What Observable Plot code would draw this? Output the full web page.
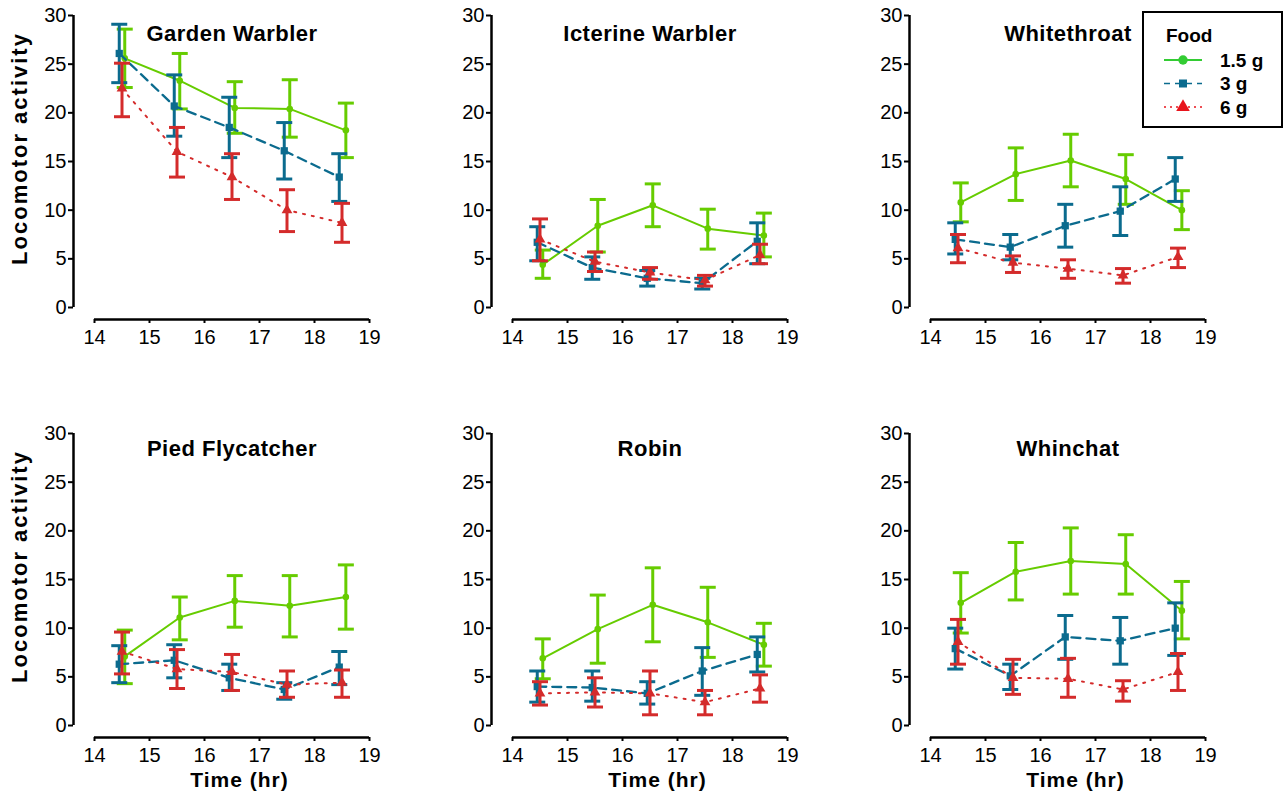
<!DOCTYPE html>
<html>
<head>
<meta charset="utf-8">
<script src="https://cdn.jsdelivr.net/npm/d3@7"></script>
<script src="https://cdn.jsdelivr.net/npm/@observablehq/plot@0.6"></script>
<style>
  body { margin: 0; background: #fff; font-family: "Liberation Sans", Arial, sans-serif; }
  #chart { position: relative; width: 1287px; height: 800px; overflow: hidden; background: #fff; }
  .panel { position: absolute; }
  #legend { position: absolute; left: 1142px; top: 11px; }
</style>
</head>
<body>
<div id="chart"></div>
<script>
// ---------------- data ----------------
const species = ["Garden Warbler", "Icterine Warbler", "Whitethroat", "Pied Flycatcher", "Robin", "Whinchat"];
const foods = ["1.5 g", "3 g", "6 g"];
const xDomain = [14, 19];
const yDomain = [0, 30];
const xTicks = [14, 15, 16, 17, 18, 19];
const yTicks = [0, 5, 10, 15, 20, 25, 30];
const yLabel = "Locomotor activity";
const xLabel = "Time (hr)";

// sampling times (hr) per food group (groups slightly staggered)
const time_1_5g = [14.55, 15.55, 16.55, 17.55, 18.57];
const time_3g   = [14.45, 15.45, 16.45, 17.45, 18.45];
const time_6g   = [14.5, 15.5, 16.5, 17.5, 18.5];

// mean, lower and upper error-bar ends; one row per species (order as in `species`)
const mean_1_5g = [
  [25.6, 23.3, 20.5, 20.4, 18.2],
  [4.4, 8.4, 10.5, 8.1, 7.4],
  [10.8, 13.7, 15.1, 13.2, 10.0],
  [7.1, 11.1, 12.8, 12.3, 13.2],
  [6.9, 9.9, 12.4, 10.6, 8.3],
  [12.6, 15.8, 16.9, 16.6, 11.8]
];
const lo_1_5g = [
  [22.6, 20.4, 17.9, 17.5, 15.4],
  [3.0, 5.7, 8.3, 6.0, 5.2],
  [8.8, 11.0, 12.4, 10.6, 8.0],
  [4.3, 8.8, 10.1, 9.1, 9.9],
  [4.8, 6.4, 8.6, 7.0, 6.1],
  [9.5, 12.9, 13.5, 13.5, 8.9]
];
const hi_1_5g = [
  [28.6, 26.1, 23.2, 23.4, 21.0],
  [5.9, 11.1, 12.7, 10.1, 9.7],
  [12.8, 16.4, 17.8, 15.7, 12.0],
  [9.8, 13.2, 15.4, 15.4, 16.5],
  [8.9, 13.4, 16.2, 14.2, 10.5],
  [15.7, 18.8, 20.3, 19.6, 14.8]
];
const mean_3g = [
  [26.1, 20.7, 18.5, 16.1, 13.4],
  [6.7, 4.1, 3.0, 2.5, 6.8],
  [7.0, 6.2, 8.4, 9.9, 13.2],
  [6.3, 6.7, 4.9, 3.7, 6.0],
  [4.0, 3.9, 3.3, 5.6, 7.3],
  [7.9, 5.1, 9.1, 8.7, 10.0]
];
const lo_3g = [
  [23.1, 17.6, 15.4, 13.2, 10.9],
  [4.8, 2.9, 2.2, 1.9, 4.5],
  [5.5, 4.9, 6.2, 7.4, 10.9],
  [4.4, 4.9, 3.6, 2.7, 4.2],
  [2.4, 2.5, 2.2, 3.1, 5.5],
  [5.8, 3.7, 6.8, 6.3, 7.2]
];
const hi_3g = [
  [29.1, 23.9, 21.6, 19.0, 15.8],
  [8.3, 5.2, 3.8, 3.0, 8.7],
  [8.7, 7.5, 10.6, 12.4, 15.4],
  [8.2, 8.3, 6.3, 4.4, 7.6],
  [5.6, 5.6, 4.5, 8.0, 9.1],
  [10.0, 6.3, 11.3, 11.1, 12.6]
];
const mean_6g = [
  [22.5, 16.0, 13.4, 10.0, 8.7],
  [7.0, 4.7, 3.6, 2.8, 5.4],
  [6.1, 4.6, 4.0, 3.3, 5.2],
  [7.6, 5.8, 5.5, 4.2, 4.4],
  [3.3, 3.4, 3.3, 2.4, 3.8],
  [8.6, 4.9, 4.8, 3.7, 5.5]
];
const lo_6g = [
  [19.6, 13.4, 11.1, 7.8, 6.7],
  [4.8, 3.7, 2.9, 2.2, 4.5],
  [4.6, 3.6, 3.0, 2.5, 4.1],
  [5.3, 3.8, 3.6, 2.9, 2.9],
  [2.1, 1.9, 1.1, 1.1, 2.4],
  [6.3, 3.2, 2.9, 2.5, 3.6]
];
const hi_6g = [
  [25.1, 18.5, 15.8, 12.1, 10.7],
  [9.1, 5.7, 4.1, 3.3, 6.5],
  [7.5, 5.3, 4.9, 4.0, 6.1],
  [9.6, 7.8, 7.3, 5.6, 5.7],
  [4.5, 4.9, 5.6, 3.6, 5.2],
  [10.9, 6.8, 6.9, 4.6, 7.4]
];

// ---------------- styling ----------------
const lineColors = ["#66cc00", "#0b6b8e", "#d42b2b"];
const legendColors = ["#33cc33", "#0b6b8e", "#e8141c"];
const dashes = [null, "9,6", "2,7"];
const symbols = ["circle", "square", "triangle"];
const symbolR = [3.3, 4.1, 4.0];
const FONT = "'Liberation Sans', Arial, sans-serif";

// tidy table
const groups = [
  {food: foods[0], time: time_1_5g, mean: mean_1_5g, lo: lo_1_5g, hi: hi_1_5g},
  {food: foods[1], time: time_3g, mean: mean_3g, lo: lo_3g, hi: hi_3g},
  {food: foods[2], time: time_6g, mean: mean_6g, lo: lo_6g, hi: hi_6g}
];
const rows = [];
species.forEach((sp, i) => groups.forEach(g => g.time.forEach((t, j) => {
  rows.push({species: sp, food: g.food, t, mean: g.mean[i][j], lo: g.lo[i][j], hi: g.hi[i][j]});
})));

// horizontal error-bar cap as a custom symbol (width = 2r)
const capSymbol = {draw(ctx, size) { const r = Math.sqrt(size / Math.PI); ctx.moveTo(-r, 0); ctx.lineTo(r, 0); }};

const chart = document.getElementById("chart");
const W = 418, H = 382;

species.forEach((sp, i) => {
  const row = Math.floor(i / 3), col = i % 3;
  const data = rows.filter(d => d.species === sp);
  const marks = [
    Plot.ruleX([xDomain[0]], {y1: yDomain[0], y2: yDomain[1], dx: -21, strokeWidth: 2.5, stroke: "black"}),
    Plot.ruleY([yDomain[0]], {x1: xDomain[0], x2: xDomain[1], dy: 12, strokeWidth: 2.5, stroke: "black"}),
    Plot.axisY(yTicks, {anchor: "left", tickSize: 5, tickPadding: 2, strokeWidth: 2, label: null, fontSize: 20}),
    Plot.axisX(xTicks, {anchor: "bottom", tickSize: 4, tickPadding: 6, strokeWidth: 2, label: null, fontSize: 20}),
    Plot.text([sp], {text: d => d, frameAnchor: "top", dx: 10.5, dy: row === 0 ? 18 : 15, lineAnchor: "middle",
      fontWeight: "bold", fontSize: 22})
  ];
  if (col === 0) marks.push(Plot.text([yLabel], {text: d => d, frameAnchor: "left", rotate: -90, textAnchor: "middle",
      dx: -54, dy: -19, fontWeight: "bold", fontSize: 22, lineAnchor: "middle"}));
  if (row === 1) marks.push(Plot.text([xLabel], {text: d => d, frameAnchor: "bottom", dx: 18, dy: 43,
      fontWeight: "bold", fontSize: 21, lineAnchor: "middle"}));
  foods.forEach((f, k) => {
    const s = data.filter(d => d.food === f);
    const c = lineColors[k];
    marks.push(
      Plot.line(s, {x: "t", y: "mean", stroke: c, strokeWidth: k === 0 ? 2 : (k === 1 ? 2.3 : 2), strokeDasharray: dashes[k]}),
      Plot.ruleX(s, {x: "t", y1: "lo", y2: "hi", stroke: c, strokeWidth: 3}),
      Plot.dot(s, {x: "t", y: "lo", symbol: capSymbol, r: 8, stroke: c, strokeWidth: 3}),
      Plot.dot(s, {x: "t", y: "hi", symbol: capSymbol, r: 8, stroke: c, strokeWidth: 3}),
      Plot.dot(s, {x: "t", y: "mean", symbol: symbols[k], r: symbolR[k], fill: c, stroke: "none"})
    );
  });
  const svg = Plot.plot({
    width: W, height: H,
    marginLeft: 73, marginRight: 49, marginTop: 15, marginBottom: 63,
    x: {domain: xDomain, insetLeft: 21, insetRight: 0},
    y: {domain: yDomain, insetBottom: 12},
    style: {fontFamily: FONT, fontSize: "20px", color: "black", background: "transparent", overflow: "visible"},
    marks
  });
  // widen the label lettering to match the reference's wide type
  svg.querySelectorAll("text").forEach(t => {
    if (t.textContent === yLabel) t.style.letterSpacing = "2px";
    else if (t.textContent === xLabel) t.style.letterSpacing = "1px";
    else if (t.textContent === sp) t.style.letterSpacing = "0.5px";
  });
  svg.classList.add("panel");
  svg.style.left = (col * W) + "px";
  svg.style.top = (row * 418) + "px";
  chart.appendChild(svg);
});

// ---------------- legend ----------------
const lw = 141, lh = 117;
const leg = d3.select(chart).append("svg").attr("id", "legend").attr("width", lw).attr("height", lh)
  .style("font-family", FONT);
leg.append("rect").attr("x", 1).attr("y", 1).attr("width", lw - 2).attr("height", lh - 2)
  .attr("fill", "white").attr("stroke", "black").attr("stroke-width", 2);
leg.append("text").attr("x", 24).attr("y", 31).attr("font-size", 19).attr("font-weight", "bold").text("Food");
const legSym = [d3.symbolCircle, d3.symbolSquare, d3.symbolTriangle];
const legSize = [70, 64, 80];
foods.forEach((f, k) => {
  const y = 49 + k * 23.5;
  leg.append("line").attr("x1", 22).attr("x2", 60).attr("y1", y).attr("y2", y)
    .attr("stroke", legendColors[k]).attr("stroke-width", k === 0 ? 2 : 1.6)
    .attr("stroke-dasharray", k === 0 ? null : (k === 1 ? "6,5" : "2,4"));
  leg.append("path").attr("d", d3.symbol(legSym[k], legSize[k])()).attr("transform", `translate(41,${y})`)
    .attr("fill", legendColors[k]);
  leg.append("text").attr("x", 78).attr("y", y).attr("dy", "0.35em").attr("font-size", 19)
    .attr("font-weight", "bold").text(f);
});
</script>
</body>
</html>
